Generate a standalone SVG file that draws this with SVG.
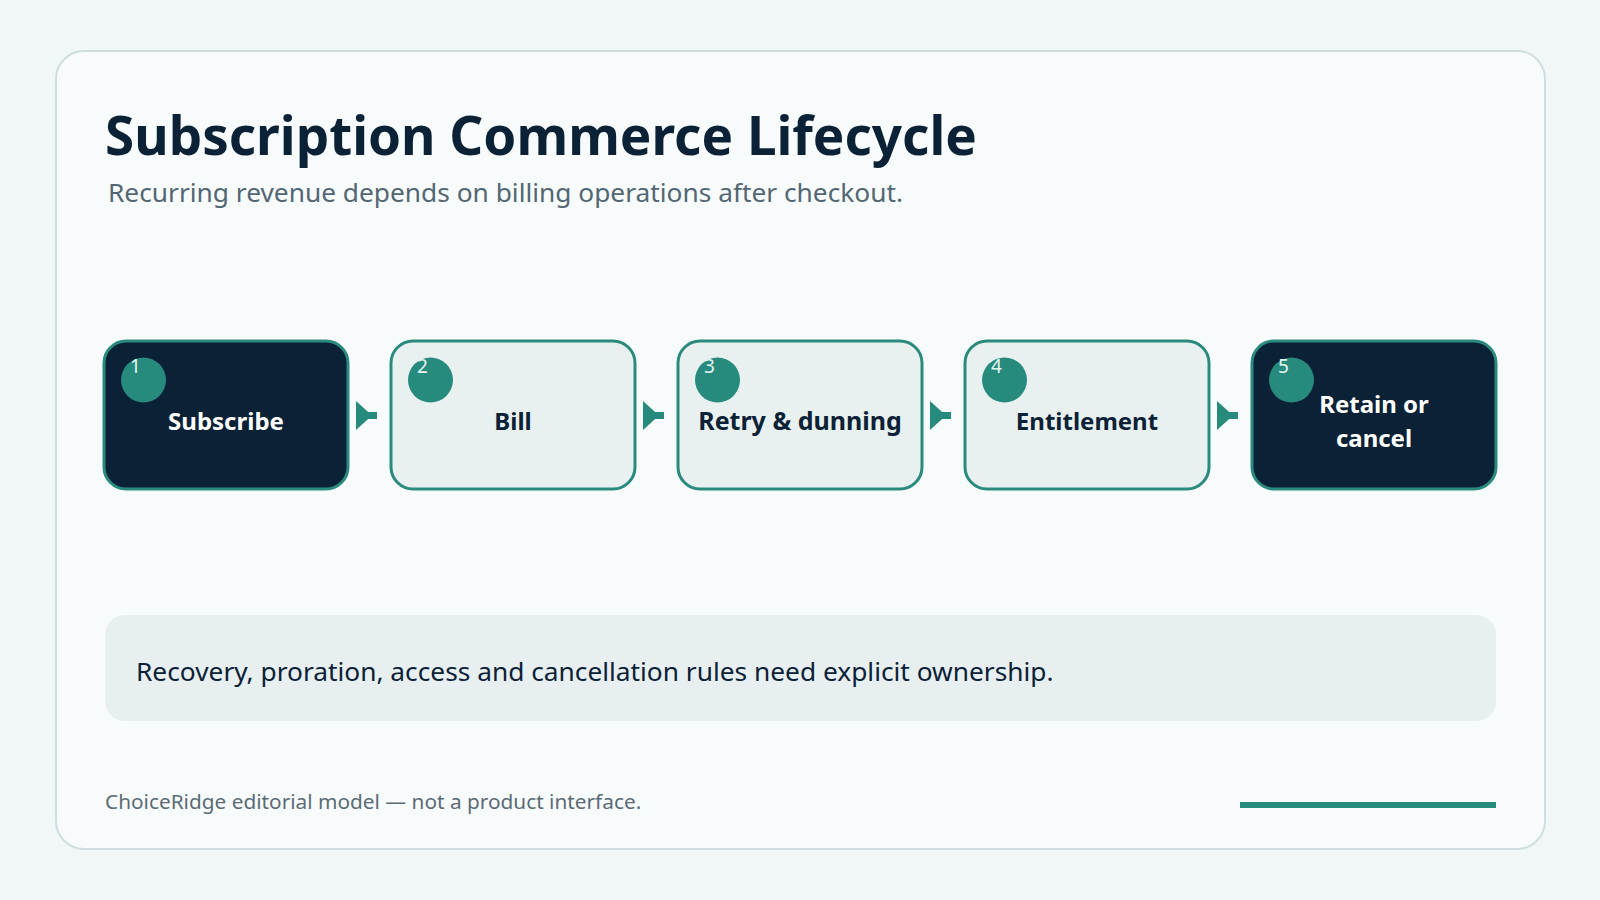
<svg xmlns="http://www.w3.org/2000/svg" width="1600" height="900" viewBox="0 0 1600 900">
<defs>
<style>
.title{font-family:"Noto Sans","Liberation Sans",sans-serif;font-weight:700;font-size:53px;fill:#0b2136}
.sub{font-family:"Noto Sans","Liberation Sans",sans-serif;font-size:26.3px;fill:#526773}
.node rect{stroke:#2a8a7e;stroke-width:3}
.light rect{fill:#e8f1f0}
.dark rect{fill:#0b2236}
.node circle{fill:#268a7c}
.num{font-family:"Noto Sans","Liberation Sans",sans-serif;font-size:19px;fill:#e6f4f1}
.lbl{font-family:"Noto Sans","Liberation Sans",sans-serif;font-weight:700;font-size:24px;text-anchor:middle}
.light .lbl{fill:#0b2136}
.dark .lbl{fill:#ffffff}
.conn line{stroke:#268a7c;stroke-width:7}
.note{font-family:"Noto Sans","Liberation Sans",sans-serif;font-size:26.3px;fill:#0b2136}
.foot{font-family:"Noto Sans","Liberation Sans",sans-serif;font-size:20.8px;fill:#5b6b75}
</style>
<marker id="ah" markerUnits="userSpaceOnUse" markerWidth="17" markerHeight="30" refX="0" refY="14.5" orient="auto">
<path d="M0,0 L16,14.5 L0,29 Z" fill="#268a7c"/>
</marker>
</defs>
<rect x="0" y="0" width="1600" height="900" fill="#f1f6f7"/>
<rect id="card" x="56" y="51" width="1489" height="798" rx="28" fill="#f8fbfb" stroke="#d0dde0" stroke-width="2"/>
<text class="title" x="105" y="155">Subscription Commerce Lifecycle</text>
<text class="sub" x="108" y="202">Recurring revenue depends on billing operations after checkout.</text>

<g id="connectors" class="conn">
<line x1="356" y1="415.5" x2="377" y2="415.5" marker-start="url(#ah)"/>
<line x1="643" y1="415.5" x2="664" y2="415.5" marker-start="url(#ah)"/>
<line x1="930" y1="415.5" x2="951" y2="415.5" marker-start="url(#ah)"/>
<line x1="1217" y1="415.5" x2="1238" y2="415.5" marker-start="url(#ah)"/>
</g>

<g id="node1" class="node dark">
<rect x="104" y="341" width="244" height="148" rx="22"/>
<circle cx="143.5" cy="380" r="22.5"/>
<text class="num" x="130" y="373">1</text>
<text class="lbl" x="226" y="430">Subscribe</text>
</g>
<g id="node2" class="node light">
<rect x="391" y="341" width="244" height="148" rx="22"/>
<circle cx="430.5" cy="380" r="22.5"/>
<text class="num" x="417" y="373">2</text>
<text class="lbl" x="513" y="430">Bill</text>
</g>
<g id="node3" class="node light">
<rect x="678" y="341" width="244" height="148" rx="22"/>
<circle cx="717.5" cy="380" r="22.5"/>
<text class="num" x="704" y="373">3</text>
<text class="lbl" x="800" y="430" style="font-size:25px">Retry &amp; dunning</text>
</g>
<g id="node4" class="node light">
<rect x="965" y="341" width="244" height="148" rx="22"/>
<circle cx="1004.5" cy="380" r="22.5"/>
<text class="num" x="991" y="373">4</text>
<text class="lbl" x="1087" y="430">Entitlement</text>
</g>
<g id="node5" class="node dark">
<rect x="1252" y="341" width="244" height="148" rx="22"/>
<circle cx="1291.5" cy="380" r="22.5"/>
<text class="num" x="1278" y="373">5</text>
<text class="lbl" x="1374" y="413">Retain or</text>
<text class="lbl" x="1374" y="446.5">cancel</text>
</g>

<g id="callout">
<rect x="105" y="615" width="1391" height="106" rx="20" fill="#e8eff1"/>
<text class="note" x="136" y="681">Recovery, proration, access and cancellation rules need explicit ownership.</text>
</g>
<text class="foot" x="105" y="809">ChoiceRidge editorial model — not a product interface.</text>
<rect x="1240" y="802" width="256" height="6" fill="#268a7c"/>
</svg>
